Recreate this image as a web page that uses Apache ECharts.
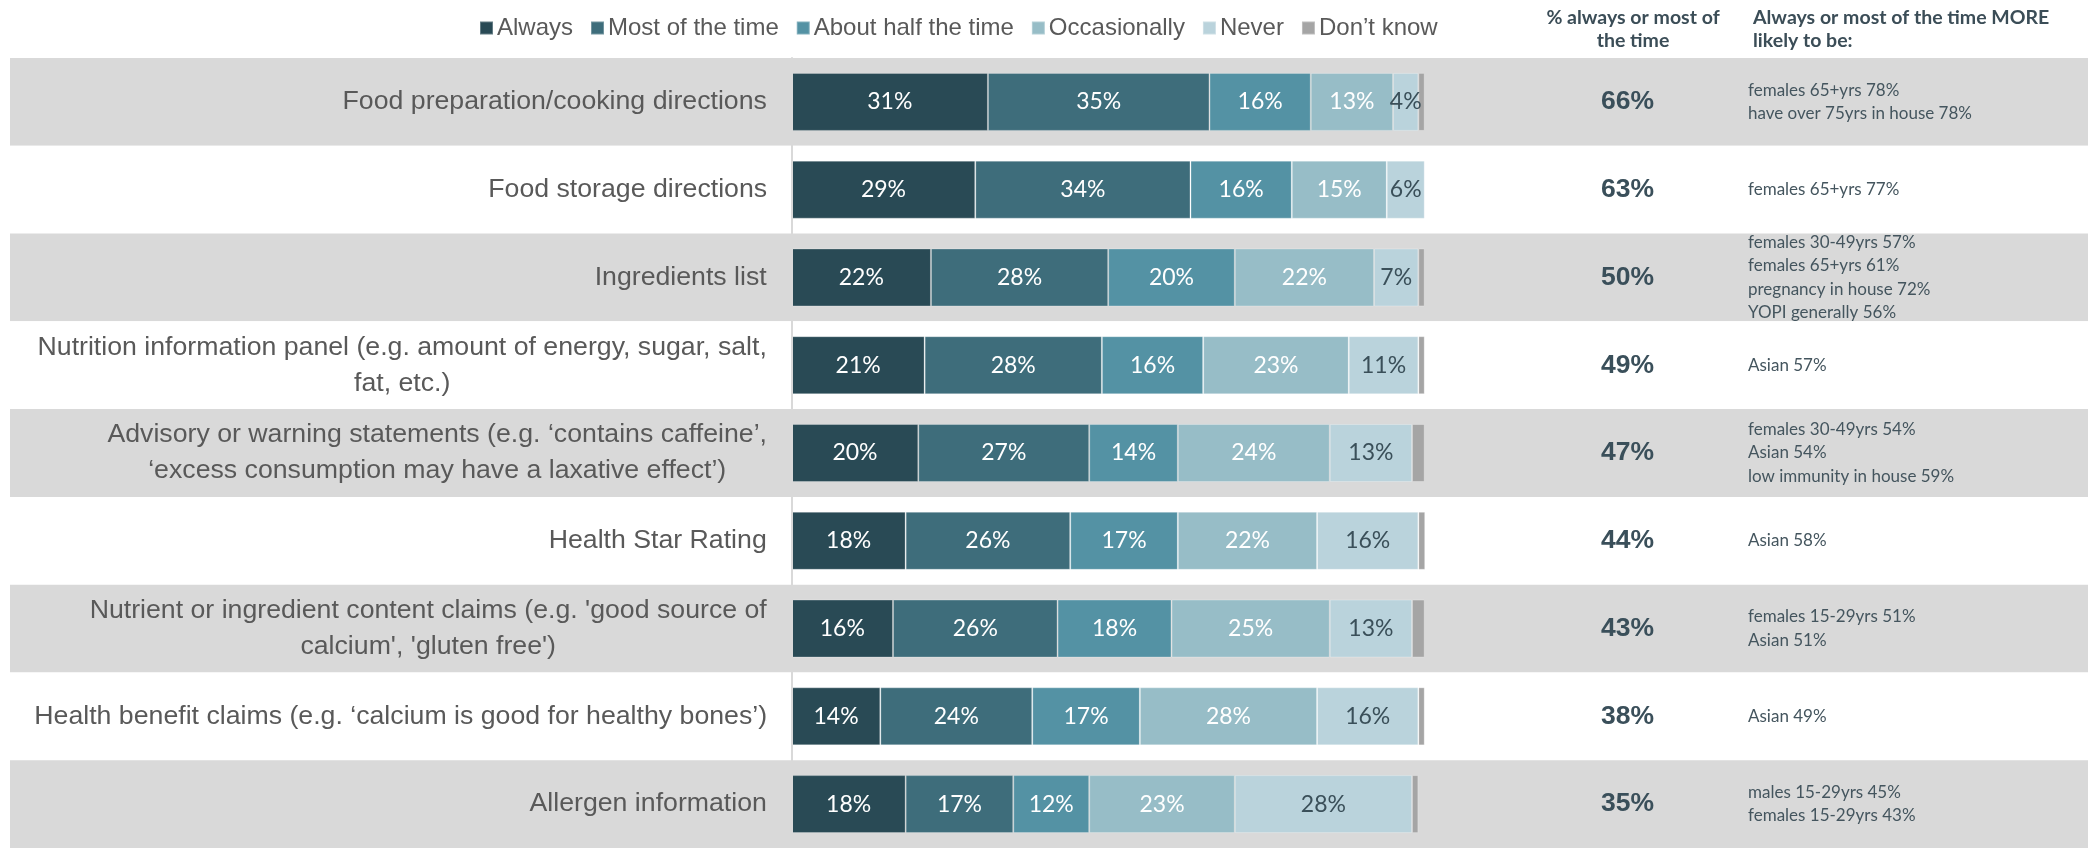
<!DOCTYPE html>
<html>
<head>
<meta charset="utf-8">
<title>Label information use</title>
<script src="https://cdn.jsdelivr.net/npm/echarts@6/dist/echarts.min.js"></script>
<style>
  html, body { margin: 0; padding: 0; background: #ffffff; }
  #chart { width: 2088px; height: 848px; }
</style>
</head>
<body>
<div id="chart"></div>
<script>
// Label elements, top to bottom
const categories = [
  'Food preparation/cooking directions',
  'Food storage directions',
  'Ingredients list',
  'Nutrition information panel (e.g. amount of energy, sugar, salt,\nfat, etc.)',
  'Advisory or warning statements (e.g. \u2018contains caffeine\u2019,\n\u2018excess consumption may have a laxative effect\u2019)',
  'Health Star Rating',
  "Nutrient or ingredient content claims (e.g. 'good source of\ncalcium', 'gluten free')",
  'Health benefit claims (e.g. \u2018calcium is good for healthy bones\u2019)',
  'Allergen information'
];

// Response options (legend order)
const responseNames = ['Always', 'Most of the time', 'About half the time', 'Occasionally', 'Never', 'Don\u2019t know'];

// Share of respondents (%) per response option
const always        = [31, 29, 22, 21, 20, 18, 16, 14, 18];
const mostOfTheTime = [35, 34, 28, 28, 27, 26, 26, 24, 17];
const aboutHalf     = [16, 16, 20, 16, 14, 17, 18, 17, 12];
const occasionally  = [13, 15, 22, 23, 24, 22, 25, 28, 23];
const never         = [4, 6, 7, 11, 13, 16, 13, 16, 28];
const dontKnow      = [1, 0.5, 1, 1, 2, 1.5, 2, 1, 1];

// "% always or most of the time" column
const alwaysOrMost = [66, 63, 50, 49, 47, 44, 43, 38, 35];

// Sub-groups more likely to answer always / most of the time
const moreLikely = [
  ['females 65+yrs 78%', 'have over 75yrs in house 78%'],
  ['females 65+yrs 77%'],
  ['females 30-49yrs 57%', 'females 65+yrs 61%', 'pregnancy in house 72%', 'YOPI generally 56%'],
  ['Asian 57%'],
  ['females 30-49yrs 54%', 'Asian 54%', 'low immunity in house 59%'],
  ['Asian 58%'],
  ['females 15-29yrs 51%', 'Asian 51%'],
  ['Asian 49%'],
  ['males 15-29yrs 45%', 'females 15-29yrs 43%']
];

const seriesValues = [always, mostOfTheTime, aboutHalf, occasionally, never, dontKnow];
const colors = ['#294a55', '#3e6d7b', '#5492a4', '#97bdc7', '#bad3dc', '#a5a5a5'];
const labelColors = ['#ffffff', '#ffffff', '#ffffff', '#ffffff', '#3a4f59', null];

const CAT_SIZE = 26.7;
const CAT_FAMILY = '"Liberation Sans", Arial, sans-serif';
const measureCtx = document.createElement('canvas').getContext('2d');
measureCtx.font = CAT_SIZE + 'px ' + CAT_FAMILY;

// Multi-line category labels: each line centred inside a right-aligned block
const catRich = {};
categories.forEach(function (c, i) {
  const lines = c.split('\n');
  const w = Math.max.apply(null, lines.map(function (l) { return measureCtx.measureText(l).width; }));
  catRich['c' + i] = {
    width: Math.ceil(w) + 1,
    align: 'center',
    fontSize: CAT_SIZE,
    fontFamily: CAT_FAMILY,
    color: '#595959',
    lineHeight: 36
  };
});

const GRID_TOP = 58;
const GRID_HEIGHT = 795.6;

const chart = echarts.init(document.getElementById('chart'), null, { renderer: 'canvas' });

const barSeries = responseNames.map(function (name, k) {
  return {
    name: name,
    type: 'bar',
    stack: 'total',
    xAxisIndex: 0,
    yAxisIndex: 0,
    barWidth: 58,
    data: seriesValues[k],
    itemStyle: {
      color: colors[k],
      borderColor: 'rgba(255,255,255,0.28)',
      borderWidth: 1
    },
    label: {
      show: labelColors[k] !== null,
      position: 'inside',
      formatter: '{c}%',
      color: labelColors[k] || '#fff',
      fontFamily: 'Lato, "Open Sans", sans-serif',
      fontSize: 23
    },
    emphasis: { disabled: true },
    animation: false
  };
});

chart.setOption({
  animation: false,
  backgroundColor: '#ffffff',
  title: [
    {
      text: '% always or most of\nthe time',
      left: 1628,
      top: 1,
      textAlign: 'center',
      textStyle: {
        fontFamily: 'Lato, sans-serif',
        fontWeight: 'bold',
        fontSize: 19.5,
        color: '#3b4d57',
        lineHeight: 23,
        align: 'center'
      }
    },
    {
      text: 'Always or most of the time MORE\nlikely to be:',
      left: 1748,
      top: 1,
      textStyle: {
        fontFamily: 'Lato, sans-serif',
        fontWeight: 'bold',
        fontSize: 19.5,
        color: '#3b4d57',
        lineHeight: 23
      }
    }
  ],
  legend: {
    data: responseNames,
    left: 474,
    top: 11,
    icon: 'rect',
    itemWidth: 13,
    itemHeight: 13,
    itemGap: 17,
    selectedMode: false,
    textStyle: {
      fontFamily: '"Liberation Sans", Arial, sans-serif',
      fontSize: 24,
      color: '#595959',
      padding: [0, 0, 0, -1]
    }
  },
  grid: [
    // stacked bars
    { left: 791.7, width: 633, top: GRID_TOP, height: GRID_HEIGHT, containLabel: false },
    // alternating row bands
    { left: 10, right: 0, top: GRID_TOP, height: GRID_HEIGHT, containLabel: false },
    // "% always or most" column
    { left: 1627.5, width: 1, top: GRID_TOP, height: GRID_HEIGHT, containLabel: false },
    // "more likely to be" column
    { left: 1748, width: 1, top: GRID_TOP, height: GRID_HEIGHT, containLabel: false }
  ],
  xAxis: [
    { gridIndex: 0, type: 'value', min: 0, max: 100, show: false },
    { gridIndex: 1, type: 'value', min: 0, max: 1, show: false },
    { gridIndex: 2, type: 'value', min: 0, max: 1, show: false },
    { gridIndex: 3, type: 'value', min: 0, max: 1, show: false }
  ],
  yAxis: [
    {
      gridIndex: 0,
      type: 'category',
      inverse: true,
      data: categories,
      z: 3,
      axisLine: { show: true, lineStyle: { color: '#d9d9d9', width: 2 } },
      axisTick: { show: false },
      splitLine: { show: false },
      axisLabel: {
        margin: 24,
        align: 'right',
        verticalAlign: 'middle',
        formatter: function (value, idx) {
          return value.split('\n').map(function (l) { return '{c' + idx + '|' + l + '}'; }).join('\n');
        },
        rich: catRich
      }
    },
    {
      gridIndex: 1,
      type: 'category',
      inverse: true,
      data: categories,
      z: 0,
      axisLine: { show: false },
      axisTick: { show: false },
      axisLabel: { show: false },
      splitLine: { show: false },
      splitArea: { show: true, areaStyle: { color: ['#d9d9d9', '#ffffff'] } }
    },
    {
      gridIndex: 2,
      type: 'category',
      inverse: true,
      data: alwaysOrMost.map(function (v) { return v + '%'; }),
      axisLine: { show: false },
      axisTick: { show: false },
      splitLine: { show: false },
      axisLabel: {
        margin: 0,
        align: 'center',
        verticalAlign: 'middle',
        fontFamily: '"Liberation Sans", Arial, sans-serif',
        fontWeight: 'bold',
        fontSize: 26.5,
        color: '#3a4f5a'
      }
    },
    {
      gridIndex: 3,
      type: 'category',
      inverse: true,
      data: moreLikely.map(function (lines) { return lines.join('\n'); }),
      axisLine: { show: false },
      axisTick: { show: false },
      splitLine: { show: false },
      axisLabel: {
        margin: 0,
        align: 'left',
        verticalAlign: 'middle',
        fontFamily: 'Lato, sans-serif',
        fontSize: 17,
        lineHeight: 23.5,
        color: '#44555e'
      }
    }
  ],
  series: barSeries
});
</script>
</body>
</html>
